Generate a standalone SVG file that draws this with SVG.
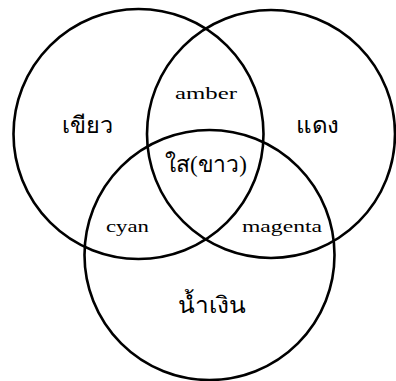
<svg xmlns="http://www.w3.org/2000/svg" width="396" height="381" viewBox="0 0 396 381">
<style>
.c{fill:none;stroke:#000;stroke-width:2.6}
.t{font-family:"Liberation Serif","DejaVu Serif",serif;fill:#000}
.lat{font-size:17px}
.th{font-size:23px}
</style>
<rect width="396" height="381" fill="#fff"/>
<g id="connectors"></g>
<g id="green"><circle class="c" cx="138.5" cy="134" r="125"/><text class="t th" x="62" y="133" textLength="51" lengthAdjust="spacingAndGlyphs">เขียว</text></g>
<g id="red"><circle class="c" cx="271" cy="134" r="124"/><text class="t th" x="296" y="133" textLength="43" lengthAdjust="spacingAndGlyphs">แดง</text></g>
<g id="blue"><circle class="c" cx="209.5" cy="255" r="125"/><text class="t th" x="178" y="313" textLength="68" lengthAdjust="spacingAndGlyphs">น้ำเงิน</text></g>
<g id="amber"><text class="t lat" x="175" y="99" textLength="62" lengthAdjust="spacingAndGlyphs">amber</text></g>
<g id="white"><text class="t th" x="165" y="172" textLength="82" lengthAdjust="spacingAndGlyphs">ใส(ขาว)</text></g>
<g id="cyan"><text class="t lat" x="106" y="232" textLength="43" lengthAdjust="spacingAndGlyphs">cyan</text></g>
<g id="magenta"><text class="t lat" x="242" y="232" textLength="80" lengthAdjust="spacingAndGlyphs">magenta</text></g>
</svg>
